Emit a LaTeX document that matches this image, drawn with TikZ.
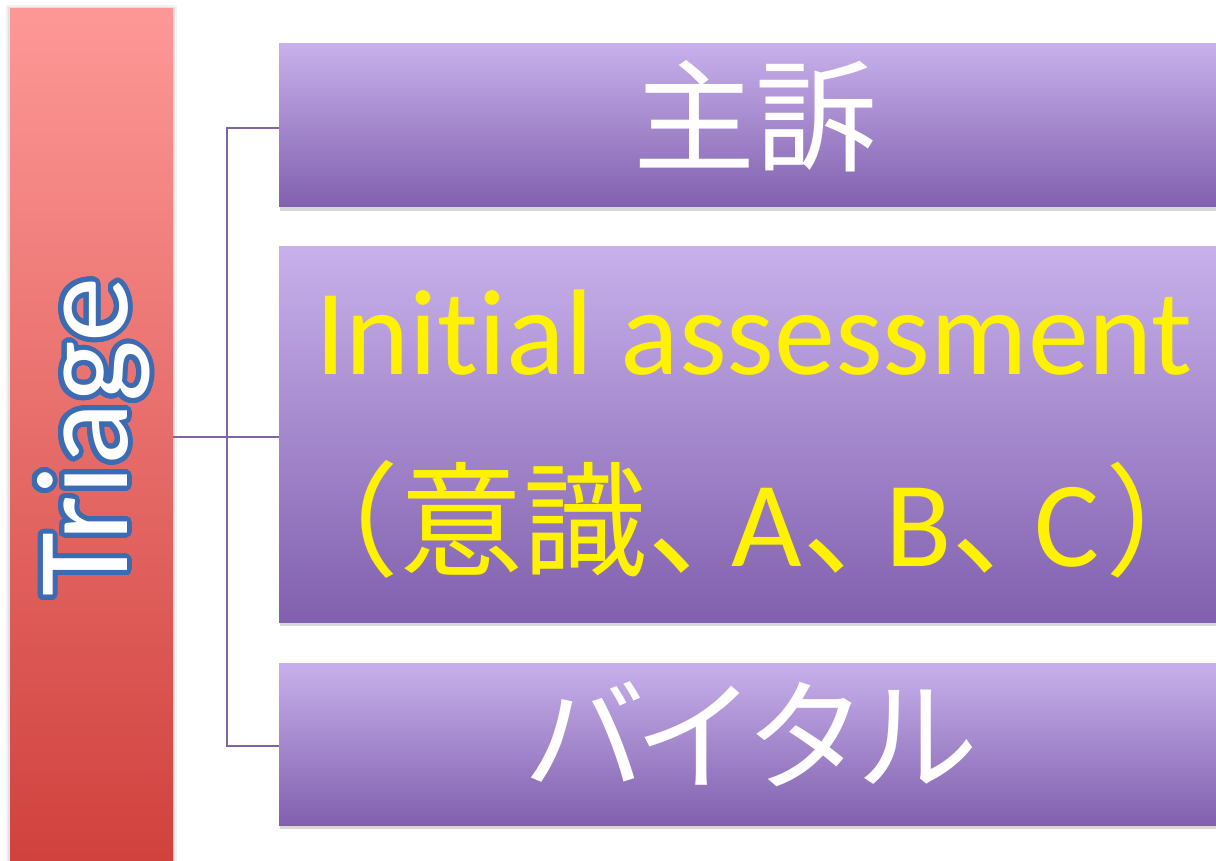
\documentclass[tikz,border=0pt]{standalone}
\usepackage{fontspec}
\setmainfont{Carlito}[Ligatures=NoCommon]
\newfontfamily\cjk{Noto Sans CJK JP}
\newfontfamily\cjkh{Noto Sans CJK JP}[RawFeature=+halt]
\usepackage{contour}
\contourlength{5pt}
\contournumber{32}
\usetikzlibrary{shadows}
\definecolor{redtop}{HTML}{FD9896}
\definecolor{redbot}{HTML}{D0413D}
\definecolor{purtop}{HTML}{C7B0EB}
\definecolor{purbot}{HTML}{8160AE}
\definecolor{conncol}{HTML}{8064A2}
\definecolor{outl}{HTML}{3A6BB3}
\tikzset{
  redbar/.style={rectangle, inner sep=0pt, minimum width=163pt, minimum height=856pt,
    top color=redtop, bottom color=redbot, draw=none},
  pbox/.style={rectangle, inner sep=0pt, minimum width=950pt,
    top color=purtop, bottom color=purbot, draw=none,
    drop shadow={shadow xshift=1pt, shadow yshift=-4pt, opacity=0.3}},
  conn/.style={draw=conncol, line width=2pt},
  bigtxt/.style={inner sep=0pt, anchor=base, font=\fontsize{122}{140}\selectfont},
}
\begin{document}
\begin{tikzpicture}[x=1pt, y=-1pt]
\useasboundingbox (0,0) rectangle (1216,861);
\fill[white] (0,0) rectangle (1216,861);
\clip (0,0) rectangle (1216,861);
\fill[black, opacity=0.05] (6,5) rectangle (177,870);
\fill[black, opacity=0.06] (8,7) rectangle (175,870);
\node[redbar] (bar) at (91.5,437) {};
\node[pbox, minimum height=163pt] (b1) at (754,125.5) {};
\node[pbox, minimum height=375pt] (b2) at (754,434.5) {};
\node[pbox, minimum height=162pt] (b3) at (754,744) {};
\node[inner sep=0pt, anchor=base, rotate=90, text=white, font=\fontsize{131}{140}\selectfont] (tri) at (127,437) {\contour{outl}{Triage}};
\node[bigtxt, text=white] (t1) at (755,163) {\cjk 主訴};
\node[bigtxt, text=yellow] (t2a) at (754,374) {Initial assessment};
\node[bigtxt, text=yellow] (t2b) at (752,566) {{\fontsize{124}{140}\selectfont\cjkh （\cjk 意識\cjkh 、}\kern0.18em A{\cjkh 、}\kern0.18em B{\cjkh 、}\kern0.18em C{\cjkh\kern0.05em ）}};
\node[bigtxt, text=white] (t3) at (751,781) {\cjk バ\kern-0.09em イ\kern-0.09em タ\kern-0.09em ル};
\coordinate (jn) at (227,437);
\draw[conn] (bar.east |- jn) -- (b2.west |- jn);
\draw[conn] (b1.west |- 0,128) -| (jn) |- (b3.west |- 0,746);
\end{tikzpicture}
\end{document}
